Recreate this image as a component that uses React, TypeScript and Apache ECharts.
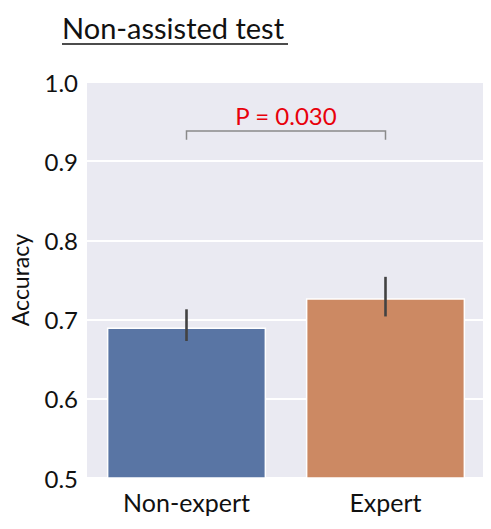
import React, { useEffect, useRef } from "react";
import * as echarts from "echarts";

const categories = ["Non-expert", "Expert"];
const accuracy = [0.69, 0.727];
const ciLow = [0.673, 0.704];
const ciHigh = [0.713, 0.754];
const barColors = ["#5975A4", "#CC8963"];
const bracketLow = 0.927;
const bracketHigh = 0.938;
const pLabel = "P = 0.030";
const titleText = "Non-assisted test";

const FONT = "Lato, 'Open Sans', sans-serif";

export default function App() {
  const ref = useRef<HTMLDivElement>(null);
  useEffect(() => {
    if (!ref.current) return;
    const chart = echarts.init(ref.current, null, { renderer: "svg" });
    chart.setOption({
      animation: false,
      textStyle: { fontFamily: FONT },
      graphic: [
        {
          type: "text",
          left: 62,
          top: 13,
          style: { text: titleText, fontSize: 29, fill: "#111", fontFamily: FONT },
        },
        {
          type: "line",
          shape: { x1: 62, y1: 44, x2: 288, y2: 44 },
          style: { stroke: "#111", lineWidth: 1.5 },
        },
      ],
      grid: { left: 86, right: 6, top: 82, bottom: 51, show: true, backgroundColor: "#EAEAF2", borderWidth: 0 },
      xAxis: {
        type: "category",
        data: categories,
        axisLine: { show: false },
        axisTick: { show: false },
        axisLabel: { fontSize: 25, color: "#111", margin: 11, fontFamily: FONT },
      },
      yAxis: {
        type: "value",
        min: 0.5,
        max: 1.0,
        interval: 0.1,
        name: "Accuracy",
        nameLocation: "middle",
        nameGap: 56,
        nameTextStyle: { fontSize: 23, color: "#111", fontFamily: FONT },
        axisLine: { show: false },
        axisTick: { show: false },
        splitLine: { lineStyle: { color: "#ffffff", width: 2 } },
        axisLabel: {
          fontSize: 24,
          color: "#111",
          margin: 9,
          fontFamily: FONT,
          formatter: (v: number) => v.toFixed(1),
        },
      },
      series: [
        {
          type: "bar",
          barWidth: "80%",
          data: accuracy.map((v, i) => ({
            value: v,
            itemStyle: { color: barColors[i], borderColor: "#ffffff", borderWidth: 1.5 },
          })),
          z: 2,
        },
        {
          type: "custom",
          z: 5,
          data: categories.map((_, i) => [i, ciLow[i], ciHigh[i]]),
          renderItem: (params: any, api: any) => {
            const x = api.value(0);
            const p1 = api.coord([x, api.value(1)]);
            const p2 = api.coord([x, api.value(2)]);
            return {
              type: "line",
              shape: { x1: p1[0], y1: p1[1], x2: p2[0], y2: p2[1] },
              style: { stroke: "#424242", lineWidth: 2.6 },
            };
          },
        },
        {
          type: "custom",
          z: 6,
          data: [[0, 1, bracketLow, bracketHigh]],
          renderItem: (params: any, api: any) => {
            const a = api.coord([api.value(0), api.value(2)]);
            const b = api.coord([api.value(0), api.value(3)]);
            const c = api.coord([api.value(1), api.value(3)]);
            const d = api.coord([api.value(1), api.value(2)]);
            return {
              type: "group",
              children: [
                {
                  type: "polyline",
                  shape: { points: [a, b, c, d] },
                  style: { stroke: "#8a8a8a", lineWidth: 1.5, fill: "none" },
                },
                {
                  type: "text",
                  style: {
                    text: pLabel,
                    x: (b[0] + c[0]) / 2,
                    y: b[1] - 4,
                    align: "center",
                    verticalAlign: "bottom",
                    fontSize: 24,
                    fill: "#E8000B",
                    fontFamily: FONT,
                  },
                },
              ],
            };
          },
        },
      ],
    });
    return () => chart.dispose();
  }, []);
  return <div ref={ref} style={{ width: 491, height: 529, margin: -8 }} />;
}
